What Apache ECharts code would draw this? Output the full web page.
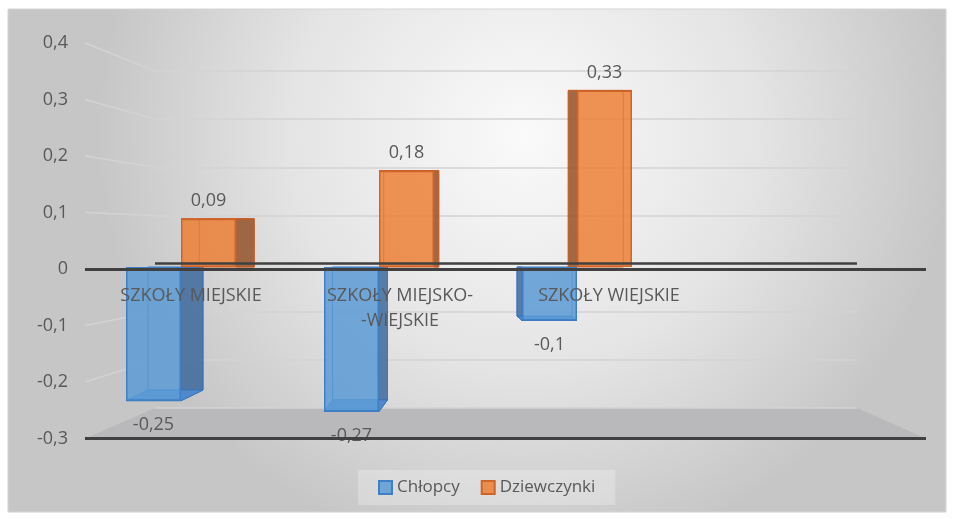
<!DOCTYPE html>
<html lang="pl">
<head>
    <meta charset="utf-8" />
    <title>Chłopcy / Dziewczynki</title>
    <style>
        html, body { margin: 0; padding: 0; background: #fff; }
    </style>
</head>
<body>
    <div id="main" style="width:953px;height:519px"></div>
    <script src="https://cdn.jsdelivr.net/npm/echarts@6/dist/echarts.min.js"></script>
    <script>
        // dane wykresu
        var categories = ['SZKOŁY MIEJSKIE', 'SZKOŁY MIEJSKO-\n-WIEJSKIE', 'SZKOŁY WIEJSKIE'];
        var chlopcy = [-0.25, -0.27, -0.1];
        var dziewczynki = [0.09, 0.18, 0.33];
        var yMin = -0.3, yMax = 0.4, yStep = 0.1;

        var FONT = 'Open Sans';
        var TXT = '#595959';

        function fmt(v) {
            return String(+Number(v).toFixed(2)).replace('.', ',');
        }

        var myChart = echarts.init(document.getElementById('main'));

        // ściany "3D" słupka: tylna krawędź, bok, denko/wieko
        function faces(offset, sideColor, endColor, edgeColor) {
            return function (params, api) {
                var idx = api.value(0), v = api.value(1);
                var c = api.coord([idx, 0]);
                var t = api.coord([idx, v]);
                var bw = 55;
                var x0 = c[0] + offset - bw / 2, x1 = x0 + bw;
                var dx = (504 - x1) * 0.068;
                var dyV = v < 0 ? -(t[1] - c[1]) * 0.08 : 0;
                var sx = dx >= 0 ? x1 : x0;
                return {
                    type: 'group',
                    children: [
                        {
                            type: 'polygon',
                            shape: { points: [[x0 + dx, c[1]], [x1 + dx, c[1]], [x1 + dx, t[1] + dyV], [x0 + dx, t[1] + dyV]] },
                            style: { fill: 'none', stroke: edgeColor, lineWidth: 1 }
                        },
                        {
                            type: 'polygon',
                            shape: { points: [[sx, c[1]], [sx, t[1]], [sx + dx, t[1] + dyV], [sx + dx, c[1]]] },
                            style: { fill: sideColor, stroke: edgeColor, lineWidth: 1 }
                        },
                        {
                            type: 'polygon',
                            shape: { points: [[x0, t[1]], [x1, t[1]], [x1 + dx, t[1] + dyV], [x0 + dx, t[1] + dyV]] },
                            style: { fill: endColor, stroke: edgeColor, lineWidth: 1 }
                        }
                    ]
                };
            };
        }

        function pairs(arr) {
            return arr.map(function (v, i) { return [i, v]; });
        }

        var hiddenY = { show: false, min: yMin, max: yMax, interval: yStep };

        var option = {
            backgroundColor: '#ffffff',
            textStyle: { fontFamily: FONT },
            animation: false,
            grid: [
                // przednia płaszczyzna (etykiety osi, ciemne linie)
                { left: 85, right: 27, top: 43, bottom: 80.5 },
                // tylna ściana (linie siatki)
                { left: 155, right: 96, top: 71, bottom: 111 },
                // słupki
                { left: 82, right: 277, top: 53, bottom: 91.5 },
                // etykiety kategorii
                { left: 86.5, right: 239.5, top: 262, height: 6 }
            ],
            xAxis: [
                { gridIndex: 0, type: 'value', min: 0, max: 1, show: false },
                { gridIndex: 1, type: 'value', min: 0, max: 1, show: false },
                { gridIndex: 2, type: 'category', data: categories, show: false },
                {
                    gridIndex: 3, type: 'category', data: categories, z: 10,
                    axisLine: { show: false }, axisTick: { show: false },
                    axisLabel: { color: TXT, fontSize: 18, lineHeight: 25, margin: 15, fontFamily: FONT }
                }
            ],
            yAxis: [
                {
                    gridIndex: 0, type: 'value', min: yMin, max: yMax, interval: yStep,
                    axisLine: { show: false }, axisTick: { show: false }, splitLine: { show: false },
                    axisLabel: { color: TXT, fontSize: 18, margin: 17, fontFamily: FONT, formatter: fmt }
                },
                {
                    gridIndex: 1, type: 'value', min: yMin, max: yMax, interval: yStep,
                    axisLine: { show: false }, axisTick: { show: false }, axisLabel: { show: false },
                    splitLine: { lineStyle: { color: '#d3d3d3', width: 1.5 } }
                },
                Object.assign({ gridIndex: 2, type: 'value' }, hiddenY),
                Object.assign({ gridIndex: 3, type: 'value' }, hiddenY)
            ],
            legend: {
                data: ['Chłopcy', 'Dziewczynki'],
                left: 358, top: 470,
                padding: [9, 20, 9, 20],
                backgroundColor: 'rgba(255,255,255,0.25)',
                icon: 'rect',
                itemWidth: 13, itemHeight: 13, itemGap: 21,
                textStyle: { color: TXT, fontSize: 17, fontFamily: FONT }
            },
            series: [
                {
                    type: 'line', xAxisIndex: 0, yAxisIndex: 0, data: [],
                    markLine: {
                        silent: true, symbol: 'none', label: { show: false },
                        lineStyle: { color: '#404040', width: 3, type: 'solid' },
                        data: [{ yAxis: 0 }, { yAxis: yMin }]
                    }
                },
                {
                    type: 'line', xAxisIndex: 1, yAxisIndex: 1, data: [],
                    markLine: {
                        silent: true, symbol: 'none', label: { show: false },
                        lineStyle: { color: '#404040', width: 2.5, type: 'solid' },
                        data: [{ yAxis: 0 }]
                    }
                },
                {
                    name: 'chlopcy3d', type: 'custom', xAxisIndex: 2, yAxisIndex: 2, z: 2,
                    renderItem: faces(-27.5, 'rgba(52,98,152,0.8)', 'rgba(80,140,205,0.9)', '#3a78c0'),
                    encode: { x: 0, y: 1 }, data: pairs(chlopcy), silent: true
                },
                {
                    name: 'dziewczynki3d', type: 'custom', xAxisIndex: 2, yAxisIndex: 2, z: 2,
                    renderItem: faces(27.5, 'rgba(150,85,45,0.88)', 'rgba(235,140,80,0.95)', '#c9612b'),
                    encode: { x: 0, y: 1 }, data: pairs(dziewczynki), silent: true
                },
                {
                    name: 'Chłopcy', type: 'bar', xAxisIndex: 2, yAxisIndex: 2, z: 3,
                    barWidth: 55, barGap: '0%',
                    data: chlopcy,
                    itemStyle: { color: 'rgba(91,155,213,0.85)', borderColor: '#3f7fc6', borderWidth: 1.5 },
                    label: {
                        show: true, position: 'bottom', distance: 15,
                        color: TXT, fontSize: 18, fontFamily: FONT,
                        formatter: function (p) { return fmt(p.value); }
                    }
                },
                {
                    name: 'Dziewczynki', type: 'bar', xAxisIndex: 2, yAxisIndex: 2, z: 3,
                    barWidth: 55, barGap: '0%',
                    data: dziewczynki,
                    itemStyle: { color: 'rgba(237,125,49,0.82)', borderColor: '#d0652a', borderWidth: 1.5 },
                    label: {
                        show: true, position: 'top', distance: 9,
                        color: TXT, fontSize: 18, fontFamily: FONT,
                        formatter: function (p) { return fmt(p.value); }
                    }
                }
            ]
        };
        myChart.setOption(option);

        // tło, podłoga i ukośne linie lewej ściany liczone ze skal osi
        function front(v, x) { return myChart.convertToPixel({ xAxisIndex: 0, yAxisIndex: 0 }, [x, v]); }
        function back(v, x) { return myChart.convertToPixel({ xAxisIndex: 1, yAxisIndex: 1 }, [x, v]); }

        var graphics = [{
            type: 'rect', z: -100, silent: true,
            shape: { x: 8, y: 9, width: 938, height: 503 },
            style: {
                fill: new echarts.graphic.RadialGradient(0.55, 0.25, 0.85, [
                    { offset: 0, color: '#fafafa' },
                    { offset: 0.55, color: '#e4e4e4' },
                    { offset: 1, color: '#c6c6c6' }
                ]),
                stroke: '#d4d4d4', lineWidth: 1
            }
        }, {
            type: 'polygon', z: -50, silent: true,
            shape: { points: [back(yMin, 0), back(yMin, 1), front(yMin, 1), front(yMin, 0)] },
            style: { fill: '#b9b9bb' }
        }];
        for (var v = yMin + yStep; v <= yMax + 1e-9; v += yStep) {
            if (Math.abs(v) < 1e-9) continue;
            graphics.push({
                type: 'line', z: -50, silent: true,
                shape: (function (a, b) { return { x1: a[0], y1: a[1], x2: b[0], y2: b[1] }; })(front(v, 0), back(v, 0)),
                style: { stroke: '#d3d3d3', lineWidth: 1.5 }
            });
        }
        myChart.setOption({ graphic: graphics });
    </script>
</body>
</html>
